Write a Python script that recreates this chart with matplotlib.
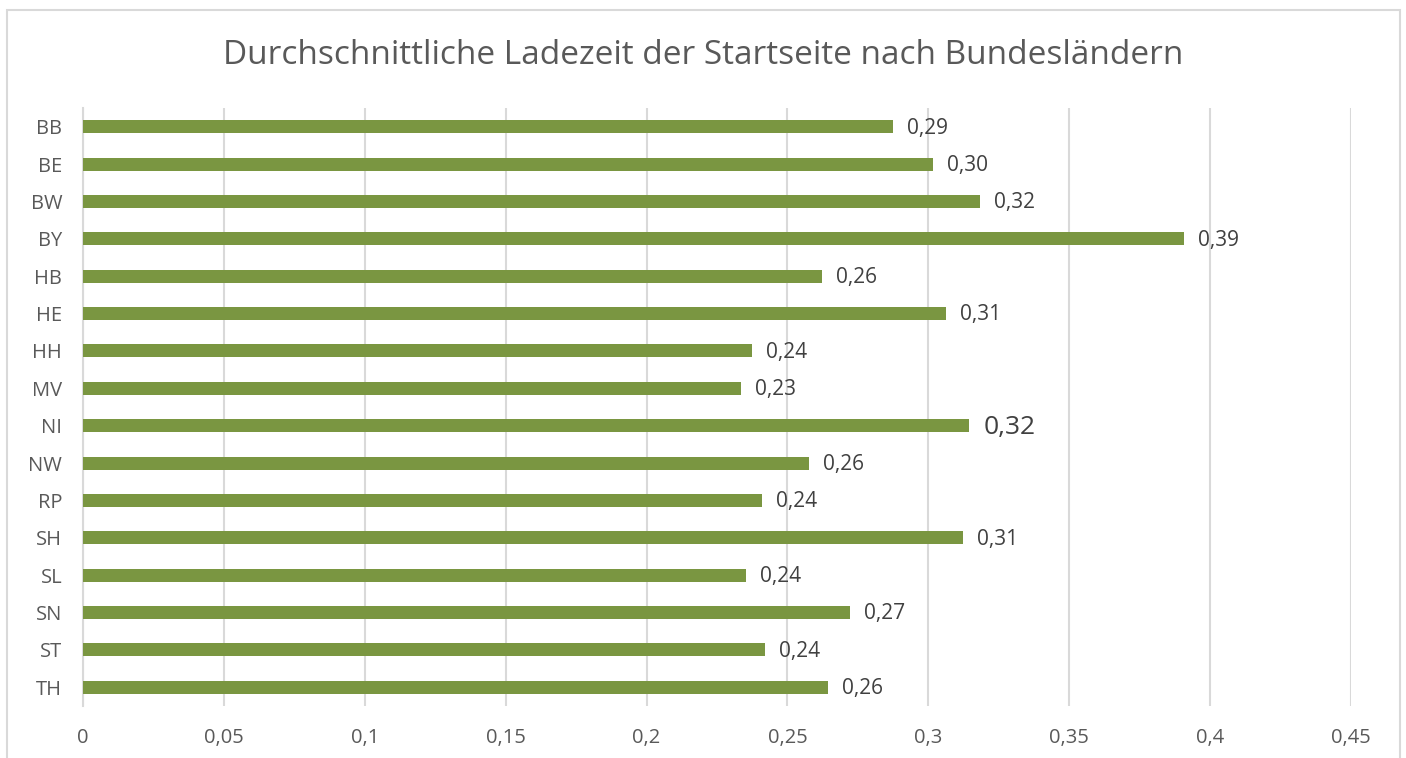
import matplotlib
matplotlib.use("Agg")
import matplotlib.pyplot as plt
from matplotlib.patches import Rectangle

categories = ["BB", "BE", "BW", "BY", "HB", "HE", "HH", "MV", "NI", "NW", "RP", "SH", "SL", "SN", "ST", "TH"]
values = [0.2876, 0.3016, 0.3182, 0.3907, 0.2622, 0.3063, 0.2374, 0.2335, 0.3146, 0.2578, 0.2410, 0.3123, 0.2353, 0.2722, 0.2420, 0.2644]
labels = ["0,29", "0,30", "0,32", "0,39", "0,26", "0,31", "0,24", "0,23", "0,32", "0,26", "0,24", "0,31", "0,24", "0,27", "0,24", "0,26"]
xticks = [0, 0.05, 0.1, 0.15, 0.2, 0.25, 0.3, 0.35, 0.4, 0.45]
xticklabels = ["0", "0,05", "0,1", "0,15", "0,2", "0,25", "0,3", "0,35", "0,4", "0,45"]
title = "Durchschnittliche Ladezeit der Startseite nach Bundesländern"

plt.rcParams['font.family'] = ['Open Sans', 'DejaVu Sans']

W, H = 1406, 758
fig = plt.figure(figsize=(W/100, H/100), dpi=100)
fig.patch.set_facecolor("white")

# outer border
fig.patches.append(Rectangle((7/W, -0.05), (1400-7)/W, 1.05 - 10/H, transform=fig.transFigure,
                             fill=False, edgecolor="#d9d9d9", linewidth=1.5, clip_on=False))

ax = fig.add_axes([83/W, 1 - 706/H, (1351-83)/W, (706-108)/H])
y = list(range(len(categories)))
ax.barh(y, values, height=0.35, color="#7a9641", zorder=3)
ax.set_ylim(len(categories) - 0.5, -0.5)
ax.set_xlim(0, 0.45)
ax.set_xticks(xticks)
ax.set_xticklabels(xticklabels)
ax.set_yticks(y)
ax.set_yticklabels(categories)
ax.grid(axis="x", color="#d9d9d9", linewidth=1.5, zorder=0)
for s in ["top", "right", "bottom"]:
    ax.spines[s].set_visible(False)
ax.spines["left"].set_color("#d9d9d9")
ax.spines["left"].set_linewidth(1.5)
ax.tick_params(axis="both", length=0, labelsize=14.5, labelcolor="#595959")
ax.tick_params(axis="x", pad=16)
ax.tick_params(axis="y", pad=15)

for i, (v, lab) in enumerate(zip(values, labels)):
    fs = 19 if categories[i] == "NI" else 15
    ax.annotate(lab, (v, i), xytext=(10, -1), textcoords="offset points",
                va="center", ha="left", fontsize=fs, color="#404040")

fig.text(0.5, 1 - 56/H, title, ha="center", va="center", fontsize=24, color="#595959")

fig.savefig("out.png", dpi=100)
